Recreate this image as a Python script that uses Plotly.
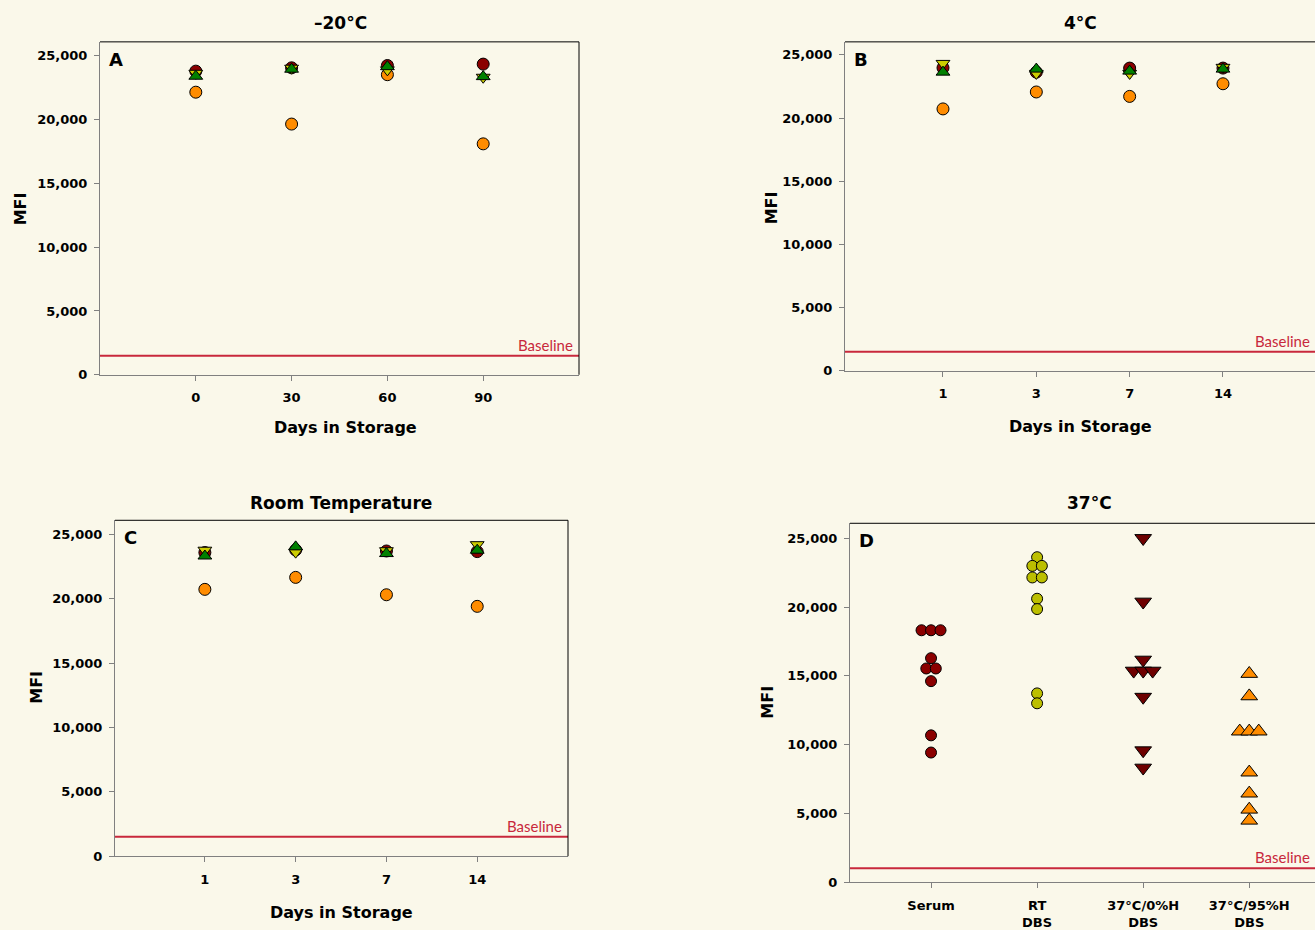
import plotly.graph_objects as go

W, H = 1315, 930
HY = 918   # the viewer shows the 930 px tall page slightly compressed; place items against this

# ---------------- data ----------------
days_A = [0, 30, 60, 90]
A_serum = [23800, 24060, 24240, 24350]       # dark red circles
A_yellow = [23630, 24030, 23900, 23320]      # yellow down triangles
A_green = [23400, 23950, 24150, 23370]       # green up triangles
A_orange = [22150, 19650, 23520, 18100]      # orange circles

days_BC = ["1", "3", "7", "14"]
B_serum = [23970, 23630, 23950, 23950]
B_yellow = [24320, 23530, 23530, 24010]
B_green = [23630, 23870, 23710, 23870]
B_orange = [20720, 22060, 21710, 22710]

C_serum = [23580, 23780, 23700, 23650]
C_yellow = [23760, 23610, 23720, 24190]
C_green = [23310, 24020, 23500, 23760]
C_orange = [20720, 21650, 20300, 19400]

D_categories = ["Serum", "RT<br>DBS", "37°C/0%H<br>DBS", "37°C/95%H<br>DBS"]
D_serum = [18310, 18310, 18310, 16280, 15530, 15530, 14610, 10670, 9420]
D_rt = [23620, 22990, 22990, 22150, 22150, 20600, 19850, 13720, 13000]
D_0h = [25000, 20380, 16160, 15360, 15360, 15360, 13460, 9570, 8310]
D_95h = [15150, 13520, 10960, 10960, 10960, 7980, 6450, 5280, 4480]

baseline_ABC = 1500
baseline_D = 1000

panel_titles = ["\u201320°C", "4°C", "Room Temperature", "37°C"]

# ---------------- style ----------------
BG = "#FAF8EA"
DARKRED = "#8B0000"
MAROON = "#6E0000"
YELLOW = "#CCCC00"
OLIVE = "#BCBF00"
GREEN = "#008000"
ORANGE = "#FF8C00"
BASE_RED = "#C8283C"
FONT = "DejaVu Sans, Liberation Sans, Arial, sans-serif"


def px(x):
    return x / W


def py(y):
    return 1 - y / HY


fig = go.Figure()

panels = {
    "A": dict(x0=100, x1=579, y0=42, y1=376, xr=[-30, 120], yr=[0, 26094]),
    "B": dict(x0=845, x1=W, y0=42, y1=372, xr=[-1.05, 3.986], yr=[0, 26025]),
    "C": dict(x0=115, x1=568, y0=522, y1=859, xr=[-0.99, 4.0], yr=[0, 26083]),
    "D": dict(x0=850, x1=W, y0=525, y1=885, xr=[-0.764, 3.62], yr=[0, 26087]),
}
axnames = {"A": ("x", "y"), "B": ("x2", "y2"), "C": ("x3", "y3"), "D": ("x4", "y4")}

TICKFONT = dict(family=FONT, size=13, color="black", weight="bold")

layout = {}
for key, p in panels.items():
    xa, ya = axnames[key]
    xl = "xaxis" + xa[1:]
    yl = "yaxis" + ya[1:]
    layout[xl] = dict(
        domain=[px(p["x0"]), px(p["x1"])], range=p["xr"], anchor=ya,
        showgrid=False, zeroline=False, showline=True, linecolor="#808080", linewidth=1,
        ticks="outside", ticklen=5, tickcolor="#808080", ticklabelstandoff=6,
        tickfont=TICKFONT, fixedrange=True,
    )
    layout[yl] = dict(
        domain=[py(p["y1"]), py(p["y0"])], range=p["yr"], anchor=xa,
        showgrid=False, zeroline=False, showline=True, linecolor="#808080", linewidth=1,
        ticks="outside", ticklen=5, tickcolor="#808080", ticklabelstandoff=4,
        tickvals=[0, 5000, 10000, 15000, 20000, 25000], tickformat=",",
        tickfont=TICKFONT, fixedrange=True,
    )

layout["xaxis"]["tickvals"] = days_A
layout["xaxis2"].update(tickvals=list(range(len(days_BC))), ticktext=days_BC)
layout["xaxis3"].update(tickvals=list(range(len(days_BC))), ticktext=days_BC)
layout["xaxis4"].update(tickvals=list(range(len(D_categories))), ticktext=D_categories,
                        ticklabelstandoff=6)


def add_set(xs, series, xa, ya):
    for vals, sym, col, size in series:
        fig.add_trace(go.Scatter(
            x=xs, y=vals, mode="markers", xaxis=xa, yaxis=ya, showlegend=False,
            hoverinfo="skip",
            marker=dict(symbol=sym, color=col, size=size, line=dict(color="black", width=1)),
        ))


cat_idx = list(range(len(days_BC)))
add_set(days_A, [(A_orange, "circle", ORANGE, 12), (A_serum, "circle", DARKRED, 12),
                 (A_yellow, "triangle-down", YELLOW, 12), (A_green, "triangle-up", GREEN, 12)], "x", "y")
add_set(cat_idx, [(B_orange, "circle", ORANGE, 12), (B_serum, "circle", DARKRED, 12),
                  (B_yellow, "triangle-down", YELLOW, 12), (B_green, "triangle-up", GREEN, 12)], "x2", "y2")
add_set(cat_idx, [(C_orange, "circle", ORANGE, 12), (C_serum, "circle", DARKRED, 12),
                  (C_yellow, "triangle-down", YELLOW, 12), (C_green, "triangle-up", GREEN, 12)], "x3", "y3")

# panel D: identical values are spread side by side (dot-plot style)
pD = panels["D"]
units_per_px = (pD["xr"][1] - pD["xr"][0]) / (pD["x1"] - pD["x0"])
STEP_PX = 9.5


def spread(center, vals):
    xs = []
    counts = {}
    for v in vals:
        counts[v] = counts.get(v, 0) + 1
    seen = {}
    for v in vals:
        n = counts[v]
        i = seen.get(v, 0)
        seen[v] = i + 1
        xs.append(center + (i - (n - 1) / 2) * STEP_PX * units_per_px)
    return xs


D_series = [(D_serum, "circle", DARKRED, 11), (D_rt, "circle", OLIVE, 11),
            (D_0h, "triangle-down", MAROON, 14.5), (D_95h, "triangle-up", ORANGE, 14.5)]
for i, (vals, sym, col, size) in enumerate(D_series):
    fig.add_trace(go.Scatter(
        x=spread(i, vals), y=vals, mode="markers", xaxis="x4", yaxis="y4", showlegend=False,
        hoverinfo="skip",
        marker=dict(symbol=sym, color=col, size=size, line=dict(color="black", width=1)),
    ))

shapes = []
annotations = []
for key, p in panels.items():
    xa, ya = axnames[key]
    base = baseline_D if key == "D" else baseline_ABC
    shapes.append(dict(type="line", xref=f"{xa} domain", yref=ya, x0=0, x1=1, y0=base, y1=base,
                       line=dict(color=BASE_RED, width=2), layer="above"))
    shapes.append(dict(type="line", xref="paper", yref="paper", x0=px(p["x0"]), x1=px(p["x1"]),
                       y0=py(p["y0"]), y1=py(p["y0"]), line=dict(color="black", width=1)))
    if p["x1"] < W:
        shapes.append(dict(type="line", xref="paper", yref="paper", x0=px(p["x1"]), x1=px(p["x1"]),
                           y0=py(p["y0"]), y1=py(p["y1"]), line=dict(color="black", width=1)))
    annotations.append(dict(text=f"<b>{key}</b>", xref="paper", yref="paper",
                            x=px(p["x0"] + 7), y=py(p["y0"] + 5), xanchor="left", yanchor="top",
                            showarrow=False, font=dict(family=FONT, size=18, color="black")))
    bx = p["x1"] - 4 if p["x1"] < W else W - 3
    annotations.append(dict(text="Baseline", xref="paper", yref=ya, x=px(bx), y=base,
                            xanchor="right", yanchor="bottom", yshift=0, showarrow=False,
                            font=dict(family="Lato, Open Sans, sans-serif", size=15, color=BASE_RED)))

for (tx, ty), t in zip([(340, 23), (1080, 23), (341, 505), (1089, 505)], panel_titles):
    annotations.append(dict(text=f"<b>{t}</b>", xref="paper", yref="paper", x=px(tx), y=py(ty),
                            xanchor="center", yanchor="middle", showarrow=False,
                            font=dict(family=FONT, size=17, color="black")))
for tx, ty in [(345, 429), (1080, 428), (341, 915)]:
    annotations.append(dict(text="<b>Days in Storage</b>", xref="paper", yref="paper", x=px(tx), y=py(ty),
                            xanchor="center", yanchor="middle", showarrow=False,
                            font=dict(family=FONT, size=16, color="black")))
for tx, ty in [(20, 210), (771, 208), (37, 690), (768, 705)]:
    annotations.append(dict(text="<b>MFI</b>", xref="paper", yref="paper", x=px(tx), y=py(ty),
                            xanchor="center", yanchor="middle", showarrow=False, textangle=-90,
                            font=dict(family=FONT, size=16, color="black")))

fig.update_layout(
    width=W, height=H, autosize=False, margin=dict(l=0, r=0, t=0, b=0, pad=0),
    paper_bgcolor=BG, plot_bgcolor=BG, showlegend=False,
    shapes=shapes, annotations=annotations, **layout,
)

fig.write_html(
    "out.html",
    config={"displayModeBar": False, "staticPlot": True, "responsive": False},
    post_script="document.body.style.margin='0';document.body.style.background='%s';"
                "document.documentElement.style.background='%s';"
                "document.documentElement.style.overflow='hidden';" % (BG, BG),
)
